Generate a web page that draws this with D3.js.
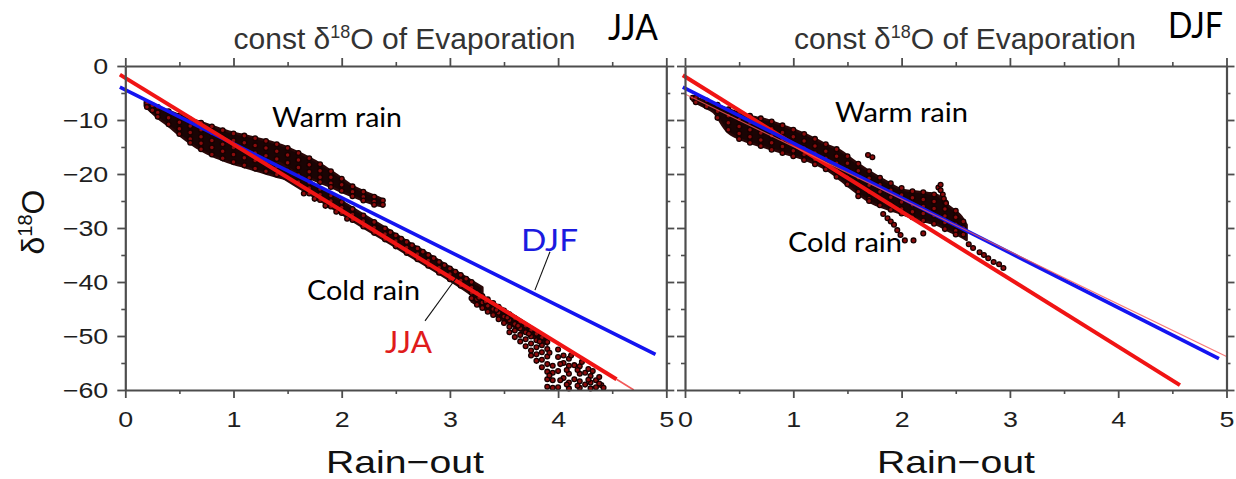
<!DOCTYPE html>
<html><head><meta charset="utf-8">
<script src="https://cdn.jsdelivr.net/npm/d3@7"></script>
<style>html,body{margin:0;padding:0;background:#fff;} svg{display:block;}</style>
</head><body><svg id="c" width="1236" height="479"></svg>
<script>
// ---------------- data ----------------
const xTicks = [0,1,2,3,4,5];
const xMinorTicks = [0.5,1.5,2.5,3.5,4.5];
const yTicks = [0,-10,-20,-30,-40,-50,-60];
const yMinorTicks = [-5,-15,-25,-35,-45,-55];
const xDomain = [0,5];
const yDomain = [-60,0];
const seasons = ["JJA","DJF"];
const titlePre = "const δ", titleSup = "18", titlePost = "O of Evaporation";
const xLabel = "Rain−out";
const annWarm = "Warm rain", annCold = "Cold rain";

// fitted lines (rain-out, d18O)
const jjaRedFit = [[-0.05,-1.6],[4.54,-58.0]];
const jjaRedTail = [[4.54,-58.0],[4.7,-60.0]];
const jjaBlueFit = [[-0.05,-3.9],[4.9,-53.4]];
const djfRedFit = [[-0.02,-1.7],[4.57,-59.1]];
const djfBlueFit = [[-0.02,-3.9],[4.93,-54.2]];
const djfRedThin = [[-0.02,-5.0],[5.0,-53.8]];

// dense-cloud envelopes
const jjaWarmX = [0.18,0.3,0.4,0.5,0.6,0.7,0.8,0.9,1.0,1.1,1.2,1.3,1.4,1.5,1.6,1.7,1.8,1.9,2.0,2.1,2.2,2.3,2.38];
const jjaWarmTop = [-6.6,-7.5,-8.3,-9.1,-9.8,-10.4,-11.1,-11.8,-12.4,-12.8,-13.3,-13.8,-14.4,-15.1,-16.0,-17.0,-18.1,-19.4,-20.8,-22.2,-23.2,-24.0,-24.7];
const jjaWarmBot = [-7.4,-9.6,-11.1,-12.8,-14.3,-15.6,-16.6,-17.4,-18.1,-18.7,-19.3,-19.9,-20.5,-21.0,-21.6,-20.9,-21.6,-22.4,-23.3,-24.1,-24.9,-25.6,-26.0];
const jjaColdX = [1.4,1.6,1.8,2.0,2.2,2.4,2.6,2.8,3.0,3.2,3.3];
const jjaColdTop = [-17.6,-20.1,-22.5,-25.0,-27.5,-29.9,-32.4,-34.8,-37.3,-39.8,-41.0];
const jjaColdBot = [-20.0,-22.5,-24.9,-27.4,-29.9,-32.3,-34.8,-37.2,-39.7,-42.4,-44.2];
const jjaFanX = [3.2,3.4,3.6,3.8,3.9];
const jjaFanTop = [-41.4,-43.8,-46.3,-48.9,-50.3];
const jjaFanBot = [-43.6,-46.0,-48.4,-50.6,-51.6];
const djfEnvX = [0.07,0.15,0.26,0.4,0.57,0.76,0.94,1.13,1.31,1.43,1.55,1.71,1.87,1.99,2.1,2.24,2.33,2.42,2.54,2.6];
const djfEnvTop = [-5.9,-6.2,-6.9,-8.0,-9.1,-10.0,-11.3,-12.8,-14.6,-15.6,-17.4,-19.6,-21.5,-22.8,-23.2,-23.5,-23.9,-25.7,-27.6,-29.4];
const djfEnvBot = [-6.4,-7.3,-8.5,-12.3,-14.0,-15.2,-16.3,-17.5,-19.2,-21.0,-22.9,-25.2,-26.5,-27.3,-28.1,-28.9,-29.4,-30.4,-31.5,-32.2];

// scatter points, grouped as [rain-out, [d18O values]]
const jjaPoints = [
 [0.2,[-6.9,-7.6]],[0.25,[-7.3,-8.2]],[0.3,[-7.6,-8.6,-9.4]],[0.4,[-8.4,-9.6,-10.8]],
 [0.5,[-9.2,-10.4,-11.6,-12.6]],[0.6,[-9.9,-11.1,-12.3,-13.5,-14.2]],[0.7,[-10.5,-11.8,-13.1,-14.3,-15.4]],
 [0.8,[-11.2,-12.5,-13.8,-15.1,-16.4]],[0.9,[-11.9,-13.2,-14.5,-15.8,-17.1]],[1.0,[-12.5,-13.8,-15.1,-16.4,-17.8]],
 [1.1,[-12.9,-14.2,-15.6,-17.0,-18.4]],[1.2,[-13.4,-14.7,-16.1,-17.5,-19.0]],[1.3,[-13.9,-15.2,-16.6,-18.0,-19.5]],
 [1.4,[-14.5,-15.8,-17.2,-18.6,-20.1]],[1.5,[-15.2,-16.5,-17.9,-19.3,-20.6]],[1.6,[-16.1,-17.4,-18.8,-20.2,-21.5]],
 [1.7,[-17.1,-18.3,-19.6,-20.7,-21.6,-22.6,-23.6]],[1.8,[-18.2,-19.4,-20.6,-21.5,-22.8,-23.8,-24.8]],
 [1.9,[-19.5,-20.6,-21.7,-22.4,-24.0,-25.0,-26.0]],[2.0,[-20.9,-22.0,-23.1,-25.2,-26.2,-27.2]],
 [2.1,[-22.3,-23.3,-24.1,-26.5,-27.5,-28.5]],[2.2,[-23.3,-24.2,-24.9,-27.7,-28.7,-29.7]],
 [2.3,[-24.2,-25.1,-25.7,-28.9,-29.9,-30.9]],[2.38,[-24.9,-25.7]],
 [2.4,[-30.1,-31.1,-32.1]],[2.5,[-31.4,-32.4,-33.4]],[2.6,[-32.6,-33.6,-34.6]],[2.7,[-33.8,-34.8,-35.8]],
 [2.8,[-35.0,-36.0,-37.0]],[2.9,[-36.3,-37.3,-38.3]],[3.0,[-37.5,-38.5,-39.5]],[3.1,[-38.7,-39.7,-40.7]],
 [3.2,[-40.0,-41.0,-42.0,-43.0]],
 [1.65,[-23.6]],[1.75,[-24.6]],[1.85,[-25.9]],[1.95,[-27.0]],[2.05,[-28.3]],
 [2.45,[-30.8]],[2.55,[-32.0]],[2.65,[-33.2]],[2.75,[-34.4]],[2.85,[-35.6]],[2.95,[-36.9]],[3.05,[-38.1]],[3.15,[-39.4]],
 [3.25,[-42.0,-43.2,-44.2]],[3.3,[-42.6,-43.8,-44.8]],[3.35,[-43.2,-44.4,-45.5]],[3.4,[-43.9,-45.0,-46.1]],
 [3.45,[-44.6,-45.7,-46.9]],[3.5,[-45.3,-46.4,-47.6]],[3.55,[-46.0,-47.1,-48.3,-49.3]],
 [3.6,[-46.7,-47.8,-49.0,-50.2]],[3.65,[-47.4,-48.6,-49.8,-51.0]],[3.7,[-48.1,-49.3,-50.6,-51.9]],
 [3.75,[-48.9,-50.1,-51.4,-52.7,-53.6]],[3.8,[-49.6,-50.8,-52.1,-53.4,-54.6]],
 [3.85,[-50.3,-51.7,-53.0,-54.4,-55.8]],[3.9,[-51.1,-52.4,-53.8,-55.2,-56.6,-58.0,-59.4]],
 [3.95,[-55.5,-56.8,-58.2,-59.6]],[4.0,[-52.5,-53.9,-56.5,-59.5]],[4.05,[-53.6,-55.0,-57.8]],
 [4.1,[-54.2,-55.5,-57.0,-58.6,-59.7]],[4.15,[-55.4,-58.0]],[4.2,[-55.6,-57.0,-58.4,-59.6]],
 [4.25,[-56.8,-59.0]],[4.3,[-57.4,-58.6,-59.7]],[4.35,[-58.2,-59.5]],[4.4,[-59.1]],
 [3.27,[-42.9]],[3.33,[-43.6]],[3.43,[-45.2]],[3.53,[-46.6]],[3.63,[-48.1]],[3.73,[-49.6]],[3.83,[-51.0]],
 [3.92,[-53.1,-57.3]],[4.02,[-55.2,-58.2]],[4.08,[-56.3,-59.0]],[4.12,[-53.6]],[4.18,[-56.3,-59.2]],
 [4.22,[-54.8]],[4.28,[-56.1,-58.1]],[4.32,[-56.5]],[4.38,[-57.6,-58.8]],[4.42,[-59.6]]
];
const djfPoints = [
 [0.07,[-5.9]],[0.1,[-5.9,-6.7]],[0.2,[-6.4,-7.5]],[0.3,[-7.2,-8.4,-9.6]],[0.4,[-8.0,-9.2,-10.5,-11.8]],
 [0.5,[-8.6,-9.9,-11.2,-12.5,-13.5]],[0.6,[-9.2,-10.5,-11.8,-13.1,-14.2]],[0.7,[-9.7,-11.0,-12.4,-13.7,-14.8]],
 [0.8,[-10.3,-11.6,-12.9,-14.2,-15.5]],[0.9,[-11.0,-12.3,-13.6,-14.9,-16.1]],[1.0,[-11.8,-13.1,-14.4,-15.7,-16.7]],
 [1.1,[-12.6,-13.9,-15.2,-16.4,-17.4]],[1.2,[-13.5,-14.8,-16.1,-17.3,-18.2]],[1.3,[-14.5,-15.8,-17.1,-18.2,-19.1]],
 [1.4,[-15.4,-16.7,-18.0,-19.3,-20.5]],[1.5,[-16.7,-18.0,-19.3,-20.6,-21.9]],
 [1.6,[-18.1,-19.4,-20.7,-22.0,-23.3,-24.1]],[1.7,[-19.5,-20.8,-22.1,-23.4,-24.6,-25.0]],
 [1.8,[-20.7,-22.0,-23.3,-24.6,-25.8]],[1.9,[-21.7,-23.0,-24.3,-25.6,-26.6]],[2.0,[-22.6,-23.9,-25.2,-26.5,-27.3]],
 [2.1,[-23.2,-24.4,-25.7,-27.0,-28.0]],[2.2,[-23.4,-24.7,-26.0,-27.3,-28.6]],[2.3,[-23.8,-25.1,-26.4,-27.7,-29.2]],
 [2.4,[-25.2,-26.5,-27.8,-29.0,-30.2]],[2.5,[-26.8,-28.0,-29.3,-30.5,-31.2]],[2.57,[-28.8,-30.0,-31.2]],
 [1.83,[-27.4]],[1.87,[-28.2]],[1.9,[-28.8]],[1.93,[-29.4]],[1.96,[-30.4]],[1.99,[-31.3]],[2.03,[-32.3]],[2.11,[-32.3]],[2.2,[-31.0]],
 [2.62,[-33.0]],[2.66,[-33.7]],[2.72,[-34.5]],[2.76,[-35.0]],[2.8,[-35.6]],[2.85,[-36.3]],[2.9,[-36.7]],[2.94,[-37.4]],
 [1.69,[-16.5]],[1.73,[-16.9]],
 [2.34,[-22.5]],[2.36,[-22.0,-23.0]],[2.38,[-23.8]],[2.39,[-24.6]],[2.41,[-25.4]]
];
// leader lines (data coords)
const jjaLeader = [[2.77,-47.2],[3.056,-39.3]];
const djfLeader = [[3.925,-34.4],[3.786,-41.5]];

// ---------------- layout ----------------
const svg = d3.select("#c");
const yPix = [390,66];
const panelX = [[125.3,666.3],[685,1226.5]];
const y = d3.scaleLinear().domain(yDomain).range(yPix);
const AX = "#4d4d4d";
const fmt = d => d < 0 ? "\u2212" + Math.abs(d) : String(d);

function stretch(sel, k){
  sel.each(function(){
    const w = this.getComputedTextLength();
    d3.select(this).attr("textLength", w*k).attr("lengthAdjust","spacingAndGlyphs");
  });
}

function drawPanel(i){
  const x = d3.scaleLinear().domain(xDomain).range(panelX[i]);
  const g = svg.append("g");
  const isJ = i === 0;
  const area = d3.area().x(d=>x(d[0])).y0(d=>y(d[2])).y1(d=>y(d[1])).curve(d3.curveCatmullRom);
  const envs = isJ
    ? [d3.zip(jjaWarmX, jjaWarmTop, jjaWarmBot), d3.zip(jjaColdX, jjaColdTop, jjaColdBot), d3.zip(jjaFanX, jjaFanTop, jjaFanBot)]
    : [d3.zip(djfEnvX, djfEnvTop, djfEnvBot)];
  envs.forEach(e => g.append("path").attr("d", area(e))
    .attr("fill","#1a0404").attr("stroke","#2a0808").attr("stroke-width",2.5).attr("stroke-linejoin","round"));
  const pts = (isJ ? jjaPoints : djfPoints).flatMap(([px, ys]) => ys.map(v => [px, v]));
  g.selectAll("circle.p").data(pts).enter().append("circle")
    .attr("cx", d=>x(d[0])).attr("cy", d=>y(d[1])).attr("r",2.4)
    .attr("fill","#8c0c0c").attr("stroke","#170101").attr("stroke-width",1.3);

  const line = d3.line().x(d=>x(d[0])).y(d=>y(d[1]));
  const RED = "#f01414", BLUE = "#1414f0";
  if (isJ){
    g.append("path").attr("d", line(jjaBlueFit)).attr("stroke",BLUE).attr("stroke-width",3.6).attr("fill","none");
    g.append("path").attr("d", line(jjaRedTail)).attr("stroke","#f25a5a").attr("stroke-width",1.6).attr("fill","none");
    g.append("path").attr("d", line(jjaRedFit)).attr("stroke",RED).attr("stroke-width",4).attr("fill","none");
  } else {
    g.append("path").attr("d", line(djfRedFit)).attr("stroke",RED).attr("stroke-width",4).attr("fill","none");
    g.append("path").attr("d", line(djfBlueFit)).attr("stroke",BLUE).attr("stroke-width",3.6).attr("fill","none");
    g.append("path").attr("d", line(djfRedThin)).attr("stroke","#f25a5a").attr("stroke-width",1.2).attr("fill","none").attr("opacity",0.8);
  }

  // frame + ticks
  const yb = yPix[0], yt = yPix[1];
  const mk = (axis, tr) => {
    const a = g.append("g").attr("transform", tr).call(axis);
    a.selectAll("path.domain").attr("stroke",AX).attr("stroke-width",2.2);
    a.selectAll(".tick line").attr("stroke",AX).attr("stroke-width",1.8);
    a.selectAll("text").attr("fill","#1e1e1e").attr("font-family","Liberation Sans, Arial, sans-serif").attr("font-size",22);
    return a;
  };
  const minor = (axis, tr) => { const a = g.append("g").attr("transform", tr).call(axis); a.select("path.domain").remove(); a.selectAll(".tick line").attr("stroke",AX).attr("stroke-width",1.6); };
  const bx = mk(d3.axisBottom(x).tickValues(xTicks).tickSize(8).tickSizeOuter(0).tickPadding(13).tickFormat(fmt), `translate(0,${yb})`);
  stretch(bx.selectAll("text"), 1.22);
  minor(d3.axisBottom(x).tickValues(xMinorTicks).tickSize(4).tickFormat(""), `translate(0,${yb})`);
  mk(d3.axisTop(x).tickValues(xTicks).tickSize(8).tickSizeOuter(0).tickFormat(""), `translate(0,${yt})`);
  minor(d3.axisTop(x).tickValues(xMinorTicks).tickSize(4).tickFormat(""), `translate(0,${yt})`);
  const lx = mk(d3.axisLeft(y).tickValues(yTicks).tickSize(8).tickSizeOuter(0).tickPadding(9).tickFormat(isJ ? fmt : ""), `translate(${panelX[i][0]},0)`);
  if (isJ) stretch(lx.selectAll("text"), 1.22);
  minor(d3.axisLeft(y).tickValues(yMinorTicks).tickSize(4).tickFormat(""), `translate(${panelX[i][0]},0)`);
  mk(d3.axisRight(y).tickValues(yTicks).tickSize(8).tickSizeOuter(0).tickFormat(""), `translate(${panelX[i][1]},0)`);
  minor(d3.axisRight(y).tickValues(yMinorTicks).tickSize(4).tickFormat(""), `translate(${panelX[i][1]},0)`);

  // title
  const tx = isJ ? 404.5 : 965;
  const t = g.append("text").attr("x",tx).attr("y",49).attr("text-anchor","middle")
    .attr("font-family","Liberation Sans, Arial, sans-serif").attr("font-size",30).attr("fill","#333");
  t.append("tspan").text(titlePre);
  t.append("tspan").attr("dy",-11).attr("font-size",18).text(titleSup);
  t.append("tspan").attr("dy",11).text(titlePost);

  // x label
  g.append("text").attr("x", isJ ? 405 : 956).attr("y",473).attr("text-anchor","middle")
    .attr("font-family","Liberation Sans, Arial, sans-serif").attr("font-size",32).attr("fill","#111")
    .attr("textLength",158).attr("lengthAdjust","spacingAndGlyphs").text(xLabel);

  // season tag
  g.append("text").attr("x", isJ ? 608 : 1168).attr("y", isJ ? 40 : 38)
    .attr("font-family","Lato, sans-serif").attr("font-size",37).attr("fill","#000")
    .attr("textLength", isJ ? 50 : 55).attr("lengthAdjust","spacingAndGlyphs").text(seasons[i]);

  // annotations
  const ann = (txt, ax, ay, len, size, col) => g.append("text").attr("x",ax).attr("y",ay)
    .attr("font-family","Lato, sans-serif").attr("font-size",size).attr("fill",col)
    .attr("textLength",len).attr("lengthAdjust","spacingAndGlyphs").text(txt);
  if (isJ){
    ann(annWarm, 272, 127, 130, 26, "#000");
    ann(annCold, 307, 300, 113, 27, "#000");
    ann(seasons[0], 385, 353, 47, 31, "#e01b1b");
    ann(seasons[1], 521, 251, 57, 31, "#1b1be0");
    g.append("path").attr("d", line(jjaLeader)).attr("stroke","#111").attr("stroke-width",1.1).attr("fill","none");
    g.append("path").attr("d", line(djfLeader)).attr("stroke","#111").attr("stroke-width",1.1).attr("fill","none");
  } else {
    ann(annWarm, 835, 122, 133, 26, "#000");
    ann(annCold, 788, 252, 114, 27, "#000");
  }
}
drawPanel(0);
drawPanel(1);

// y-axis label
const yl = svg.append("text").attr("transform","translate(44,222) rotate(-90)").attr("text-anchor","middle")
  .attr("font-family","Liberation Sans, Arial, sans-serif").attr("font-size",32).attr("fill","#111");
yl.append("tspan").text("δ");
yl.append("tspan").attr("dy",-12).attr("font-size",20).text(titleSup);
yl.append("tspan").attr("dy",12).text("O");
</script>
</body></html>
